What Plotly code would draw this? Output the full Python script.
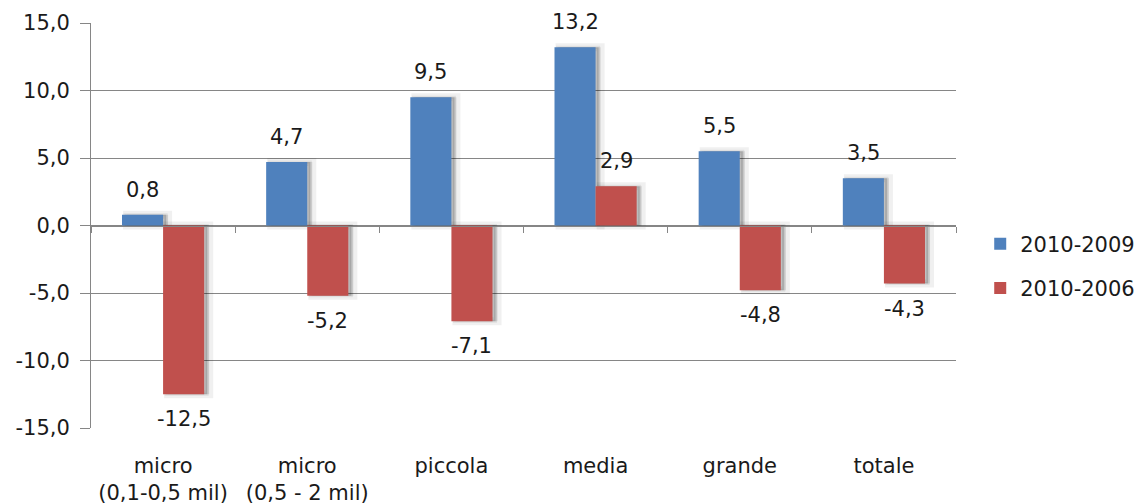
import plotly.graph_objects as go

categories = ["micro<br>(0,1-0,5 mil)", "micro<br>(0,5 - 2 mil)", "piccola", "media", "grande", "totale"]
series_names = ["2010-2009", "2010-2006"]
v_2010_2009 = [0.8, 4.7, 9.5, 13.2, 5.5, 3.5]
v_2010_2006 = [-12.5, -5.2, -7.1, 2.9, -4.8, -4.3]
y_ticks = [-15, -10, -5, 0, 5, 10, 15]
y_tick_labels = ["-15,0", "-10,0", "-5,0", "0,0", "5,0", "10,0", "15,0"]

colors = ["#4F81BD", "#C0504D"]
FONT = "DejaVu Sans, sans-serif"
TXT = "#1a1a1a"
FS = 21

def fmt(v):
    return f"{v:.1f}".replace(".", ",")

n = len(categories)
xs = list(range(n))
W = 0.285                 # bar width in category units
offsets = [-W, 0.0]
SH = 0.035                # shadow shift

fig = go.Figure()
series = [v_2010_2009, v_2010_2006]

# soft shadows (two layers)
for vals, off in zip(series, offsets):
    fig.add_trace(go.Bar(
        x=xs, y=vals, width=W, offset=off + SH,
        marker=dict(color="rgba(0,0,0,0.10)", line=dict(color="rgba(0,0,0,0.06)", width=8)),
        showlegend=False, hoverinfo="skip",
    ))
    fig.add_trace(go.Bar(
        x=xs, y=vals, width=W, offset=off + SH * 0.6,
        marker=dict(color="rgba(0,0,0,0.16)", line=dict(color="rgba(0,0,0,0.07)", width=3)),
        showlegend=False, hoverinfo="skip",
    ))

for name, vals, col, off in zip(series_names, series, colors, offsets):
    fig.add_trace(go.Bar(
        x=xs, y=vals, name=name, width=W, offset=off, legendgroup=name,
        marker=dict(color=col, line=dict(width=0)),
    ))

annotations = []
for vals, off in zip(series, offsets):
    for i, v in enumerate(vals):
        annotations.append(dict(
            x=i + off + W / 2, y=v, xref="x", yref="y", text=fmt(v), showarrow=False,
            yanchor="bottom" if v >= 0 else "top", yshift=11 if v >= 0 else -11,
            font=dict(size=FS, color=TXT, family=FONT),
        ))

# helper axis for the category tick marks along the zero line
fig.add_trace(go.Scatter(x=[-0.5, n - 0.5], y=[0, 0], xaxis="x2", mode="lines",
                         line=dict(width=0), hoverinfo="skip", showlegend=False))

fig.update_layout(
    width=1143, height=504,
    margin=dict(l=91, r=187, t=23, b=76, autoexpand=False),
    paper_bgcolor="white", plot_bgcolor="white",
    barmode="overlay",
    font=dict(family=FONT, size=FS, color=TXT),
    annotations=annotations,
    legend=dict(x=1.028, y=0.40, xanchor="left", yanchor="middle", xref="paper",
                font=dict(size=FS, family=FONT, color=TXT), itemwidth=30,
                traceorder="grouped", tracegroupgap=14, bgcolor="rgba(0,0,0,0)"),
    xaxis=dict(showgrid=False, showline=False, ticks="", tickfont=dict(size=FS),
               tickvals=xs, ticktext=categories, automargin=False,
               ticklabelstandoff=23, zeroline=False, range=[-0.5, n - 0.5]),
    xaxis2=dict(overlaying="x", anchor="free", position=0.5, range=[-0.5, n - 0.5],
                showline=True, linecolor="#868686", linewidth=1,
                ticks="outside", ticklen=6, tickcolor="#868686",
                tickvals=[i - 0.5 for i in range(n + 1)], showticklabels=False,
                showgrid=False, zeroline=False),
    yaxis=dict(range=[-15, 15], tickvals=y_ticks, ticktext=y_tick_labels,
               showgrid=True, gridcolor="#868686", gridwidth=1, automargin=False,
               showline=True, linecolor="#868686", linewidth=1,
               ticks="outside", ticklen=10, tickcolor="#868686",
               zeroline=False, tickfont=dict(size=FS), ticklabelstandoff=6),
)

fig.write_html("out.html")
